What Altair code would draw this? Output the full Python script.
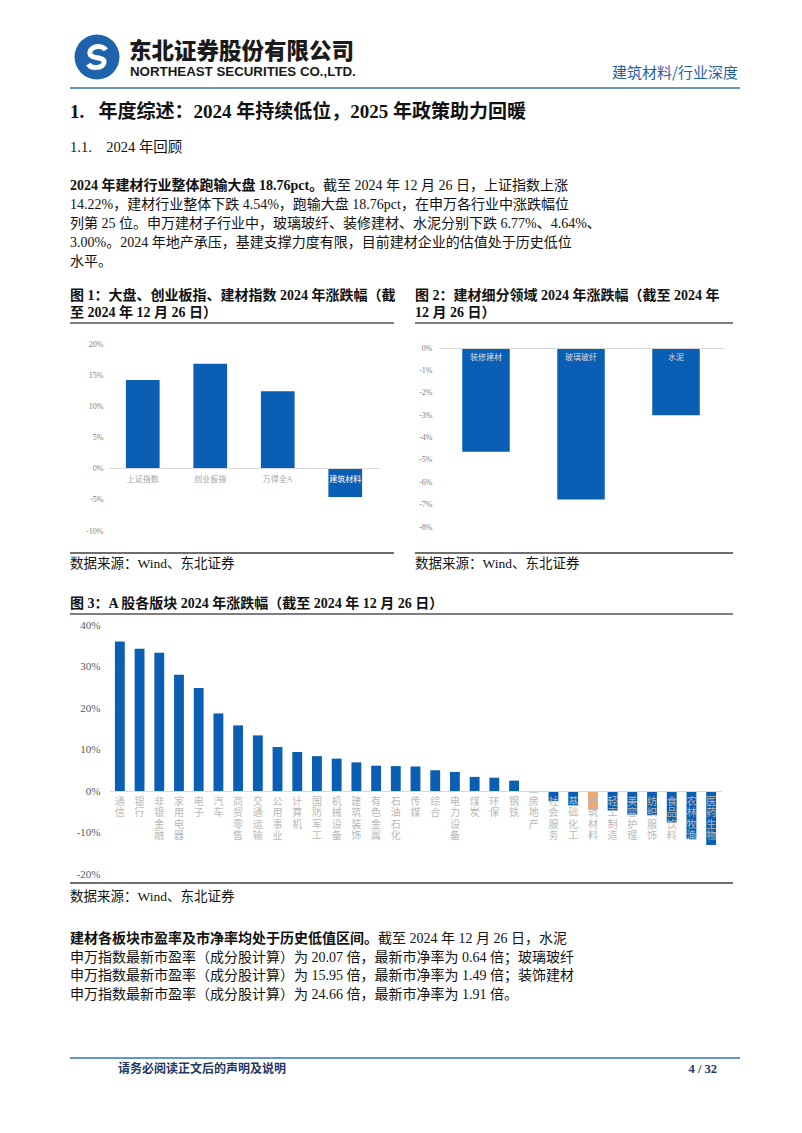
import altair as alt
import pandas as pd

MARGIN = 8
W, H = 786, 1117


def px(v):
    return v - MARGIN


SERIF = "Liberation Serif, Noto Sans CJK SC"
CJK = "Noto Sans CJK SC"
BLUE = "#0A5FB4"
ORANGE = "#F4A46A"
HEAD_BLUE = "#2E75B6"
NB = "\u00a0"

# ---------------- data ----------------
fig1_categories = ["上证指数", "创业板指", "万得全A", "建筑材料"]
fig1_values = [14.22, 16.85, 12.4, -4.54]
fig1_ticks = [-10, -5, 0, 5, 10, 15, 20]

fig2_categories = ["装修建材", "玻璃玻纤", "水泥"]
fig2_values = [-4.64, -6.77, -3.00]
fig2_ticks = [-8, -7, -6, -5, -4, -3, -2, -1, 0]

fig3_categories = ["通信", "银行", "非银金融", "家用电器", "电子", "汽车", "商贸零售",
                   "交通运输", "公用事业", "计算机", "国防军工", "机械设备", "建筑装饰",
                   "有色金属", "石油石化", "传媒", "综合", "电力设备", "煤炭", "环保",
                   "钢铁", "房地产", "社会服务", "基础化工", "建筑材料", "轻工制造",
                   "美容护理", "纺织服饰", "食品饮料", "农林牧渔", "医药生物"]
fig3_values = [36.0, 34.3, 33.3, 28.0, 24.8, 18.7, 15.8, 13.4, 10.6, 9.4, 8.4, 7.8,
               6.9, 6.1, 6.0, 5.9, 5.0, 4.6, 3.4, 3.2, 2.5, -0.3, -2.4, -3.5, -4.54,
               -4.7, -5.7, -5.8, -7.6, -11.5, -13.0]
fig3_ticks = [-20, -10, 0, 10, 20, 30, 40]
fig3_highlight = "建筑材料"

heading1 = "1." + NB * 3 + "年度综述：2024 年持续低位，2025 年政策助力回暖"
heading2 = "1.1." + NB * 4 + "2024 年回顾"
para1_bold = "2024 年建材行业整体跑输大盘 18.76pct。"
para1_lines = [
    "截至 2024 年 12 月 26 日，上证指数上涨",
    "14.22%，建材行业整体下跌 4.54%，跑输大盘 18.76pct，在申万各行业中涨跌幅位",
    "列第 25 位。申万建材子行业中，玻璃玻纤、装修建材、水泥分别下跌 6.77%、4.64%、",
    "3.00%。2024 年地产承压，基建支撑力度有限，目前建材企业的估值处于历史低位",
    "水平。",
]
para2_bold = "建材各板块市盈率及市净率均处于历史低值区间。"
para2_lines = [
    "截至 2024 年 12 月 26 日，水泥",
    "申万指数最新市盈率（成分股计算）为 20.07 倍，最新市净率为 0.64 倍；玻璃玻纤",
    "申万指数最新市盈率（成分股计算）为 15.95 倍，最新市净率为 1.49 倍；装饰建材",
    "申万指数最新市盈率（成分股计算）为 24.66 倍，最新市净率为 1.91 倍。",
]
fig1_title = ["图 1：大盘、创业板指、建材指数 2024 年涨跌幅（截", "至 2024 年 12 月 26 日）"]
fig2_title = ["图 2：建材细分领域 2024 年涨跌幅（截至 2024 年", "12 月 26 日）"]
fig3_title = "图 3：A 股各版块 2024 年涨跌幅（截至 2024 年 12 月 26 日）"
source_text = "数据来源：Wind、东北证券"

one = alt.Data(values=[{"k": 1}])


def text(s, x, y, size=14, weight="normal", color="#111111", font=SERIF, align="left"):
    return alt.Chart(one).mark_text(
        text=s, font=font, fontSize=size, fontWeight=weight, color=color,
        align=align, baseline="middle"
    ).encode(x=alt.value(px(x)), y=alt.value(px(y)))


def hline(x1, x2, y, color, width):
    return alt.Chart(one).mark_rule(color=color, strokeWidth=width).encode(
        x=alt.value(px(x1)), x2=alt.value(px(x2)), y=alt.value(px(y))
    )


def bar_panel(cats, vals, x0, x1, y_dom, y_px, zero_y, axis_x, ticks,
              ylab_size, ylab_color, xaxis_kw, color=None):
    df = pd.DataFrame({"category": cats, "value": vals})
    enc = dict(
        x=alt.X("category:N", sort=None,
                scale=alt.Scale(range=[px(x0), px(x1)], paddingInner=0.5, paddingOuter=0.25),
                axis=alt.Axis(title=None, orient="bottom", offset=px(zero_y) - H,
                              ticks=False, tickSize=0, domainColor="#d9d9d9", domainWidth=1,
                              labelAngle=0, zindex=1, labelBaseline="top",
                              labelOverlap=False, labelFont=SERIF, **xaxis_kw)),
        y=alt.Y("value:Q",
                scale=alt.Scale(domain=y_dom, range=[px(y_px[0]), px(y_px[1])], nice=False, zero=False),
                axis=alt.Axis(title=None, orient="left", offset=-px(axis_x), values=ticks,
                              labelExpr="datum.value + '%'", domain=False, ticks=False,
                              tickSize=0, grid=False, labelPadding=3, labelFont=SERIF,
                              labelFontSize=ylab_size, labelColor=ylab_color, zindex=1)),
        y2=alt.datum(0),
    )
    if color is not None:
        enc["color"] = color
    return alt.Chart(df).mark_bar(color=BLUE).encode(**enc)


layers = []

# ---------------- header ----------------
layers.append(alt.Chart(one).mark_point(shape="circle", filled=True, color="#1F63AD", size=2025, opacity=1)
              .encode(x=alt.value(px(97)), y=alt.value(px(57))))
layers.append(alt.Chart(one).mark_point(
    shape="M0.55,-0.45 C0.35,-0.8 -0.5,-0.7 -0.45,-0.22 C-0.4,0.15 0.45,-0.05 0.45,0.3 C0.45,0.72 -0.35,0.78 -0.55,0.45",
    filled=False, stroke="white", strokeWidth=5, size=1000, opacity=1)
    .encode(x=alt.value(px(97)), y=alt.value(px(57))))
layers.append(text("东北证券股份有限公司", 129, 52, size=22.5, weight=900, color="#1a1a1a", font=CJK))
layers.append(text("NORTHEAST SECURITIES CO.,LTD.", 130, 72, size=13.3, weight="bold", color="#1a1a1a",
                   font="Liberation Sans"))
layers.append(text("建筑材料/行业深度", 738, 73, size=15, color="#1F5FA8", font=CJK, align="right"))
layers.append(hline(70, 740, 88, HEAD_BLUE, 1.5))

# ---------------- headings & paragraph 1 ----------------
layers.append(text(heading1, 70, 112, size=19, weight="bold"))
layers.append(text(heading2, 70, 148, size=14.5))
layers.append(text(para1_bold, 70, 186, weight="bold"))
line_y = [186, 205, 224, 243, 262]
for i, s in enumerate(para1_lines):
    layers.append(text(s, 323 if i == 0 else 70, line_y[i]))

# ---------------- figure 1 ----------------
layers.append(text(fig1_title[0], 70, 296, size=14, weight="bold"))
layers.append(text(fig1_title[1], 70, 313, size=14, weight="bold"))
layers.append(hline(70, 394, 323, "#7f7f7f", 2))
layers.append(bar_panel(
    fig1_categories, fig1_values, 109, 379, [-10, 20], [531, 344], 468, 106, fig1_ticks,
    8, "#808080",
    dict(labelFontSize=8, labelPadding=7,
         labelColor={"condition": {"test": "datum.value == '建筑材料'", "value": "#ffffff"},
                     "value": "#a6a6a6"})))
layers.append(hline(70, 394, 553, "#3f3f3f", 1.5))
layers.append(text(source_text, 70, 564, size=13.5))

# ---------------- figure 2 ----------------
layers.append(text(fig2_title[0], 415, 296, size=14, weight="bold"))
layers.append(text(fig2_title[1], 415, 313, size=14, weight="bold"))
layers.append(hline(415, 733, 323, "#7f7f7f", 2))
layers.append(bar_panel(
    fig2_categories, fig2_values, 438.5, 723.5, [-8, 0], [527, 348], 348, 435, fig2_ticks,
    8, "#808080",
    dict(labelFontSize=8, labelPadding=5, labelColor="#dcdcdc")))
layers.append(hline(415, 733, 553, "#3f3f3f", 1.5))
layers.append(text(source_text, 415, 564, size=13.5))

# ---------------- figure 3 ----------------
layers.append(text(fig3_title, 70, 604, size=14, weight="bold"))
layers.append(hline(70, 733, 614, "#7f7f7f", 2))
layers.append(bar_panel(
    fig3_categories, fig3_values, 110, 721, [-20, 40], [874, 625], 791, 103, fig3_ticks,
    11, "#595959",
    dict(labelFontSize=10, labelPadding=5, labelColor="#b8b8b8", labelLineHeight=11.5,
         labelExpr="split(datum.label, '')", labelLimit=0),
    color=alt.condition(alt.datum.category == fig3_highlight, alt.value(ORANGE), alt.value(BLUE))))
layers.append(hline(70, 733, 883, "#3f3f3f", 1.5))
layers.append(text(source_text, 70, 897, size=13.5))

# ---------------- paragraph 2 ----------------
layers.append(text(para2_bold, 70, 939, weight="bold"))
p2_y = [939, 958, 976, 995]
for i, s in enumerate(para2_lines):
    layers.append(text(s, 378 if i == 0 else 70, p2_y[i]))

# ---------------- footer ----------------
layers.append(hline(70, 740, 1058, HEAD_BLUE, 1.5))
layers.append(text("请务必阅读正文后的声明及说明", 118, 1069, size=12, weight="bold", color="#1F3864", font=CJK))
layers.append(text("4 / 32", 717, 1069, size=12.5, weight="bold", color="#1F3864", align="right"))

chart = (
    alt.layer(*layers)
    .resolve_scale(x="independent", y="independent")
    .properties(width=W, height=H, autosize=alt.AutoSizeParams(type="none"), padding=0,
                background="white")
    .configure_view(stroke=None)
)

chart.save("out.html", embed_options={"renderer": "svg", "actions": False})
